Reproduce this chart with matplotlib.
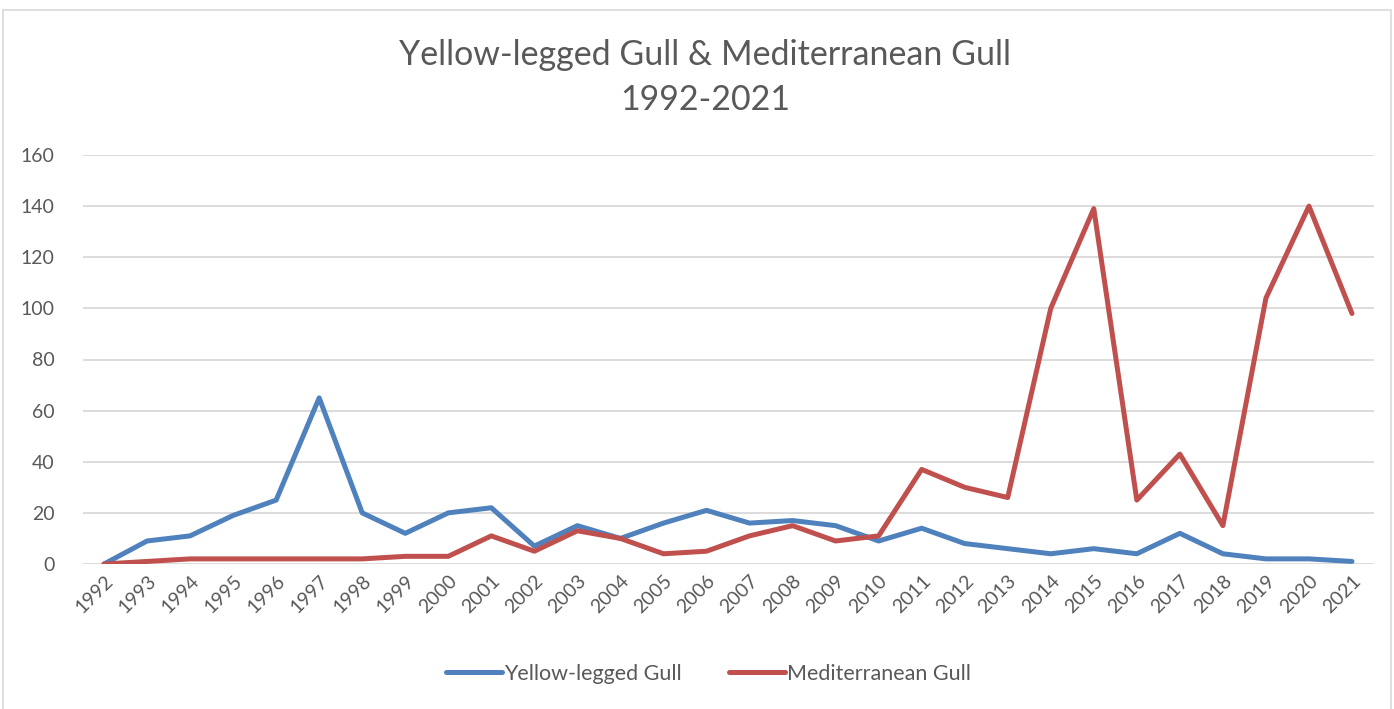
import matplotlib.pyplot as plt
from matplotlib.patches import Rectangle

years = [str(y) for y in range(1992, 2022)]
yellow_legged = [0, 9, 11, 19, 25, 65, 20, 12, 20, 22, 7, 15, 10, 16, 21,
                 16, 17, 15, 9, 14, 8, 6, 4, 6, 4, 12, 4, 2, 2, 1]
mediterranean = [0, 1, 2, 2, 2, 2, 2, 3, 3, 11, 5, 13, 10, 4, 5,
                 11, 15, 9, 11, 37, 30, 26, 100, 139, 25, 43, 15, 104, 140, 98]
yticks = [0, 20, 40, 60, 80, 100, 120, 140, 160]

plt.rcParams['font.family'] = ['Lato', 'DejaVu Sans']
grey = '#595959'

fig = plt.figure(figsize=(13.94, 7.09), dpi=100)
ax = fig.add_axes([82.5 / 1394, 1 - 564 / 709, (1373.5 - 82.5) / 1394, (564 - 155) / 709])

x = range(len(years))
ax.plot(x, yellow_legged, color='#4F81BD', lw=3.6, label='Yellow-legged Gull',
        solid_joinstyle='round', solid_capstyle='round')
ax.plot(x, mediterranean, color='#C0504D', lw=3.6, label='Mediterranean Gull',
        solid_joinstyle='round', solid_capstyle='round')

ax.set_xlim(-0.5, len(years) - 0.5)
ax.set_ylim(0, 160)
ax.set_yticks(yticks)
ax.set_xticks(list(x))
ax.set_xticklabels(years, rotation=45, ha='right', rotation_mode='anchor')
ax.tick_params(axis='both', length=0, colors=grey, labelsize=14)
ax.tick_params(axis='y', pad=20)
ax.tick_params(axis='x', pad=6)
ax.grid(axis='y', color='#d9d9d9', lw=1.3)
ax.set_axisbelow(True)
for s in ax.spines.values():
    s.set_visible(False)

fig.text(0.506, 1 - 55 / 709, 'Yellow-legged Gull & Mediterranean Gull', ha='center', va='center',
         fontsize=24.5, color=grey)
fig.text(0.506, 1 - 100 / 709, '1992-2021', ha='center', va='center', fontsize=24.5, color=grey)

leg = fig.legend(loc='center', bbox_to_anchor=(0.508, 1 - 674 / 709), ncol=2, frameon=False,
                 fontsize=15.5, handlelength=2.6, handletextpad=0.1, columnspacing=2.2)
for t in leg.get_texts():
    t.set_color(grey)

fig.patches.append(Rectangle((3 / 1394, -0.01), 1388 / 1394, 1 - 10 / 709 + 0.01,
                             transform=fig.transFigure, fill=False, ec='#d9d9d9', lw=1.2))

fig.savefig('out.png', dpi=100)
